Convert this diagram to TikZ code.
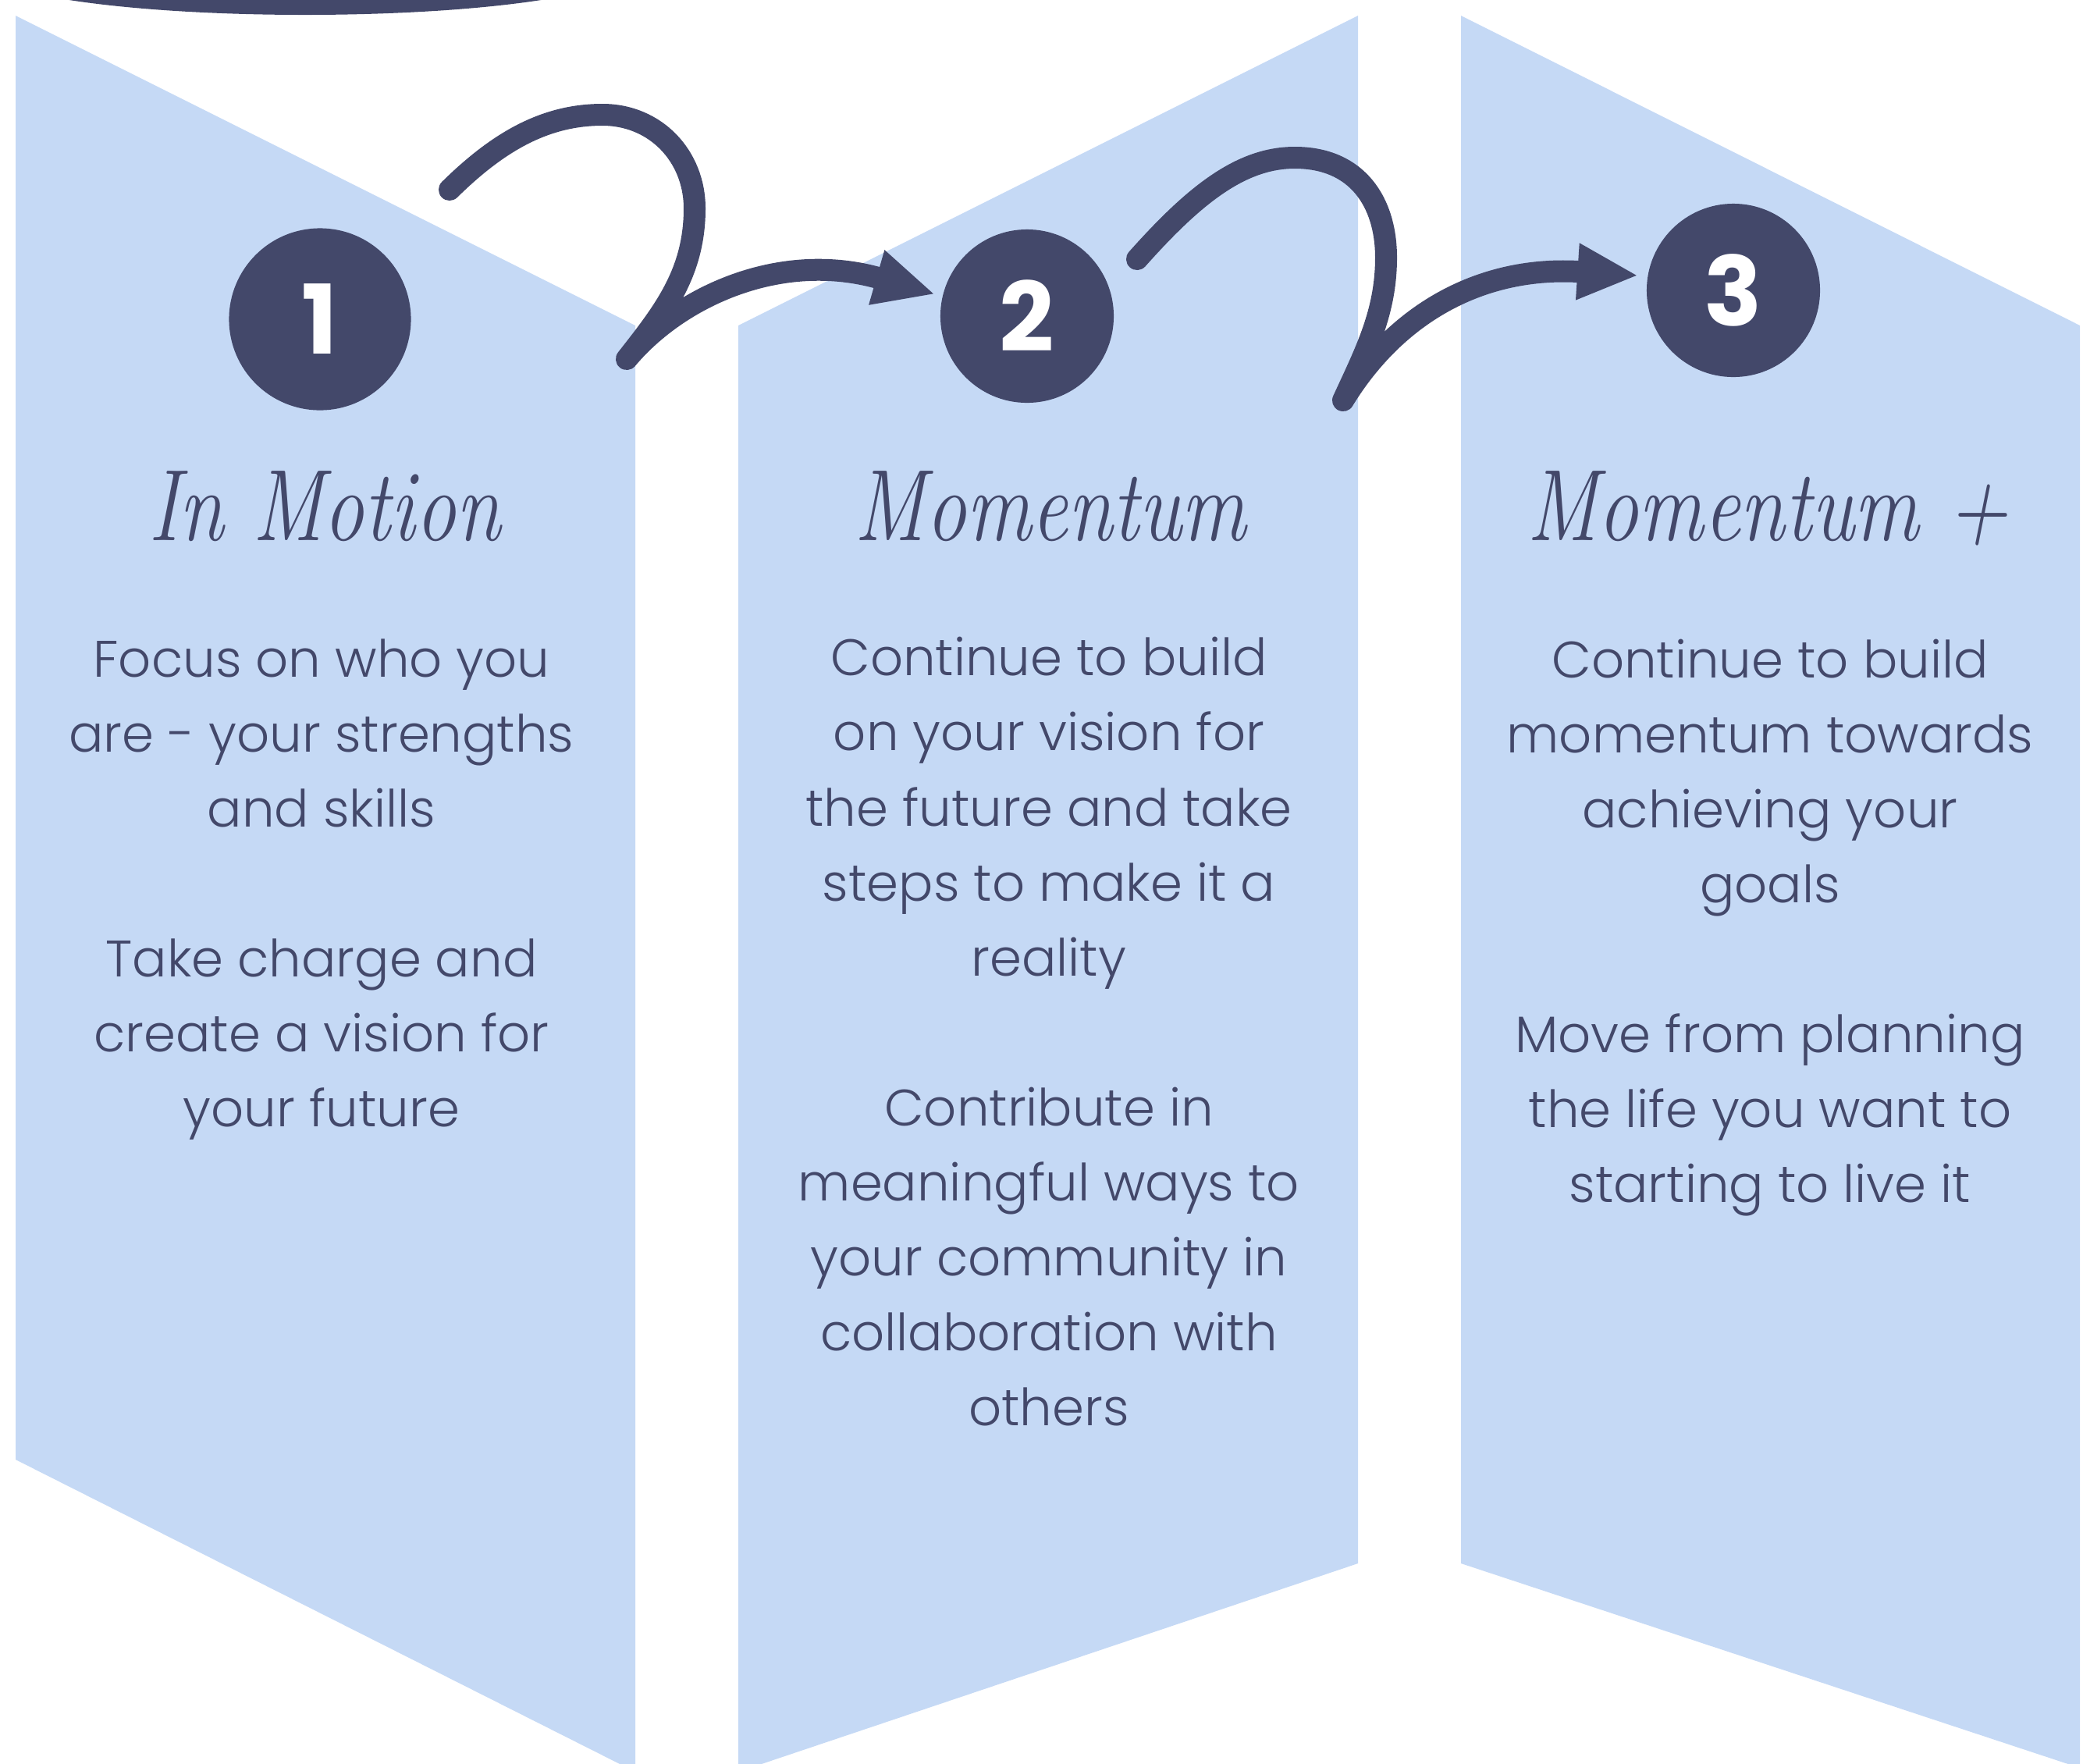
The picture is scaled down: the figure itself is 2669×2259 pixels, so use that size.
\documentclass[tikz,border=0pt]{standalone}
\usepackage{fontspec}
\usepackage{graphicx}
\usepackage{xcolor}
\usepackage{tikz}
\usetikzlibrary{arrows.meta}

\newfontfamily\blurbfont{Poppins Light}
\newfontfamily\digitfont{Poppins}
\newcommand\narrowtitle[1]{\scalebox{0.8}[1]{#1}}
\definecolor{ink}{RGB}{67,72,106}
\definecolor{panelblue}{RGB}{197,217,245}

\begin{document}
\begin{tikzpicture}[x=0.01cm, y=-0.01cm,
		panel/.style={fill=panelblue},
		numdot/.style={circle, fill=ink, text=white, inner sep=0pt, minimum size=2.22cm,
			font=\digitfont\bfseries\fontsize{35}{35}\selectfont},
		title/.style={anchor=base, text=ink, inner sep=0pt,
			font=\itshape\fontsize{37}{37}\selectfont},
		blurb/.style={anchor=base, align=center, text=ink, inner sep=0pt,
			font=\blurbfont\fontsize{18.7}{27.3}\selectfont}]
				\useasboundingbox (0,0) rectangle (2669,2259);
				\clip (0,0) rectangle (2669,2259);
				
				\path [panel] (20,20) -- (814,417) -- (814,2270) -- (20,1870) -- cycle;
				\path [panel] (946,417) -- (1740,20) -- (1740,2003) -- (946,2270) -- cycle;
				\path [panel] (1872,20) -- (2665,417) -- (2665,2265) -- (1872,2003) -- cycle;
				
				\fill [ink] (391,-41) ellipse [x radius=414, y radius=60];
				
				\node [numdot, minimum size=2.33cm] (c1) at (410,409) {1};
				\node [numdot] (c2) at (1316,405) {2};
				\node [numdot] (c3) at (2221,372) {3};
				
				\tikzset{swoosh/.style={draw=ink, line width=0.28cm, line cap=round, line join=round,
						-{Triangle[length=0.78cm,width=0.67cm]}}}
				\coordinate (a1) at (576,243);
				\coordinate (k1) at (803,460);
				\coordinate (e1) at ([shift={(-6,-28)}]c2.west);
				\draw [swoosh] (a1) .. controls (640,180) and (700,147) .. (772,147) .. controls (840,147) and (890,200) .. (890,267) .. controls (890,350) and (850,400) .. (k1) .. controls (870,380) and (1000,320) .. (e1);
				
				\coordinate (a2) at (1457,332);
				\coordinate (k2) at (1721,513);
				\coordinate (e2) at ([shift={(-10,-19)}]c3.west);
				\draw [swoosh] (a2) .. controls (1530,250) and (1590,202) .. (1659,202) .. controls (1740,202) and (1776,260) .. (1776,330) .. controls (1776,400) and (1750,450) .. (k2) .. controls (1790,400) and (1900,340) .. (e2);
				
				\node [title] (t1) at (416,692) {\narrowtitle{In Motion}};
				\node [title] (t2) at (1346,692) {\narrowtitle{Momentum}};
				\node [title] (t3) at (2265,692) {\narrowtitle{Momentum +}};
				
				% anchor=base sits on the last line of each block
				\node [blurb] (b1) at (412,1443) {Focus on who you\\are - your strengths\\and skills\\[27.3pt]Take charge and\\create a vision for\\your future};
				\node [blurb] (b2) at (1344,1826) {Continue to build\\on your vision for\\the future and take\\steps to make it a\\reality\\[27.3pt]Contribute in\\meaningful ways to\\your community in\\collaboration with\\others};
				\node [blurb] (b3) at (2268,1540) {Continue to build\\momentum towards\\achieving your\\goals\\[27.3pt]Move from planning\\the life you want to\\starting to live it};
\end{tikzpicture}
\end{document}
